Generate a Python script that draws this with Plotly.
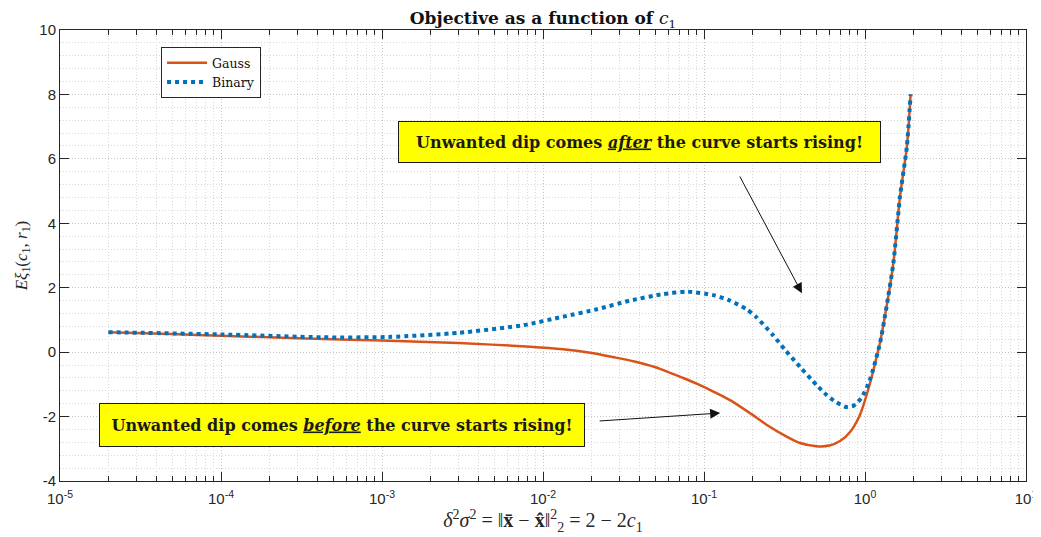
import numpy as np
import plotly.graph_objects as go

# ---------------- data ----------------
gauss_x = [2e-5, 5e-5, 1e-4, 3e-4, 1e-3, 3e-3, 8.3e-3, 0.0133, 0.0196, 0.027, 0.037,
           0.05, 0.06, 0.075, 0.093, 0.115, 0.145, 0.19, 0.246, 0.32, 0.395, 0.5,
           0.6, 0.7, 0.81, 0.93, 1.03, 1.10, 1.18, 1.24, 1.36, 1.5, 1.65, 1.82, 1.92]
gauss_y = [0.62, 0.56, 0.51, 0.43, 0.36, 0.28, 0.17, 0.09, -0.02, -0.15, -0.29,
           -0.47, -0.62, -0.81, -1.01, -1.23, -1.49, -1.87, -2.26, -2.6, -2.82, -2.92,
           -2.9, -2.76, -2.47, -1.95, -1.28, -0.77, -0.15, 0.3, 1.4, 2.76, 4.83, 6.38, 8.0]

binary_x = [2e-5, 1e-4, 4.3e-4, 1.1e-3, 3e-3, 7.6e-3, 0.0133, 0.0216, 0.0347,
            0.0556, 0.0783, 0.114, 0.145, 0.185, 0.21, 0.268, 0.32, 0.395, 0.5, 0.58,
            0.66, 0.76, 0.85, 0.95, 1.05, 1.12, 1.24, 1.36, 1.5, 1.65, 1.82, 1.92]
binary_y = [0.62, 0.55, 0.46, 0.47, 0.6, 0.84, 1.1, 1.33, 1.6,
            1.8, 1.88, 1.77, 1.6, 1.32, 1.1, 0.53, 0.06, -0.46, -1.02, -1.34,
            -1.55, -1.70, -1.66, -1.42, -0.98, -0.56, 0.28, 1.4, 2.76, 4.83, 6.38, 8.0]

x_tick_vals = [1e-5, 1e-4, 1e-3, 1e-2, 1e-1, 1e0, 1e1]
x_tick_text = ["10<sup>-5</sup>", "10<sup>-4</sup>", "10<sup>-3</sup>", "10<sup>-2</sup>",
               "10<sup>-1</sup>", "10<sup>0</sup>", "10<sup>1</sup>"]
y_tick_vals = [-4, -2, 0, 2, 4, 6, 8, 10]
y_tick_text = ["-4", "-2", "0", "2", "4", "6", "8", "10"]

minor_x = [m * d for d in [1e-5, 1e-4, 1e-3, 1e-2, 1e-1, 1e0] for m in range(2, 10)]

SERIF = "Liberation Serif"
WIDE_SERIF = "DejaVu Serif"
SANS = "Liberation Sans"
AX = "#262626"
GRID_DASH = "1px,2px"

fig = go.Figure()
fig.add_trace(go.Scatter(x=gauss_x, y=gauss_y, mode="lines", name="Gauss",
                         line=dict(color="#D95319", width=2.5, shape="spline", smoothing=0.8)))
fig.add_trace(go.Scatter(x=binary_x, y=binary_y, mode="lines", name="Binary",
                         line=dict(color="#0072BD", width=4, dash="dot", shape="spline", smoothing=0.6)))

axis_common = dict(showline=True, linecolor=AX, linewidth=1, mirror="ticks",
                   ticks="inside", tickcolor=AX, ticklen=9, zeroline=False,
                   showgrid=True, gridcolor="#c4c4c4", gridwidth=1, griddash=GRID_DASH,
                   automargin=False,
                   tickfont=dict(family=SANS, size=15, color=AX))

fig.update_xaxes(type="log", range=[-5, 1], tickvals=x_tick_vals, ticktext=x_tick_text,
                 ticklabelstandoff=4,
                 minor=dict(tickvals=minor_x, ticks="inside", ticklen=5, tickcolor=AX,
                            showgrid=True, gridcolor="#d8d8d8", griddash=GRID_DASH, gridwidth=1),
                 title=dict(text="<i>δ</i><sup>2</sup><i>σ</i><sup>2</sup> = ‖<b>x̄</b> − <b>x̂</b>‖<sup>2</sup><sub>2</sub> = 2 − 2<i>c</i><sub>1</sub>",
                            font=dict(family=SERIF, size=20, color=AX), standoff=6),
                 **axis_common)
fig.update_yaxes(range=[-4, 10], tickvals=y_tick_vals, ticktext=y_tick_text,
                 minor=dict(dtick=0.4, tick0=0, ticks="", showgrid=True,
                            gridcolor="#d8d8d8", griddash=GRID_DASH, gridwidth=1),
                 title=dict(text="<i>Eξ</i><sub>1</sub>(<i>c</i><sub>1</sub>, <i>r</i><sub>1</sub>)",
                            font=dict(family=SERIF, size=17, color=AX), standoff=7),
                 **axis_common)

ann_font = dict(family=WIDE_SERIF, size=16, color="#1a1a1a")
fig.add_annotation(x=np.log10(0.04), y=6.52, xref="x", yref="y",
                   text="<b>Unwanted dip comes <u><i>after</i></u> the curve starts rising!</b>",
                   showarrow=False, bgcolor="#ffff00", bordercolor="#1a1a1a", borderwidth=1,
                   borderpad=0, width=481, height=40, font=ann_font)
fig.add_annotation(x=np.log10(5.65e-4), y=-2.27, xref="x", yref="y",
                   text="<b>Unwanted dip comes <u><i>before</i></u> the curve starts rising!</b>",
                   showarrow=False, bgcolor="#ffff00", bordercolor="#1a1a1a", borderwidth=1,
                   borderpad=0, width=484, height=42, font=ann_font)
# arrows
fig.add_annotation(x=np.log10(0.406), y=1.83, ax=np.log10(0.165), ay=5.5,
                   xref="x", yref="y", axref="x", ayref="y", text="",
                   showarrow=True, arrowhead=2, arrowsize=2, arrowwidth=1, arrowcolor="#111")
fig.add_annotation(x=np.log10(0.126), y=-1.89, ax=np.log10(0.022), ay=-2.14,
                   xref="x", yref="y", axref="x", ayref="y", text="",
                   showarrow=True, arrowhead=2, arrowsize=2, arrowwidth=1, arrowcolor="#111")

# page body has an 8px margin: shrink the figure so that it fills the 1041x537 window
fig.update_layout(
    width=1033, height=529, autosize=False,
    margin=dict(l=52, r=15, t=22, b=56),
    paper_bgcolor="white", plot_bgcolor="white",
    title=dict(text="<b>Objective as a function of </b><i>c</i><sub>1</sub>",
               x=0.5, xref="paper", xanchor="center", y=0.992, yanchor="top",
               pad=dict(t=0, b=0),
               font=dict(family=WIDE_SERIF, size=17, color="#111")),
    legend=dict(x=0.1046, y=0.962, xanchor="left", yanchor="top",
                bgcolor="white", bordercolor=AX, borderwidth=1,
                font=dict(family=WIDE_SERIF, size=12.5, color="#111"),
                itemwidth=40, tracegroupgap=0),
    showlegend=True,
)

fig.write_html("out.html")
